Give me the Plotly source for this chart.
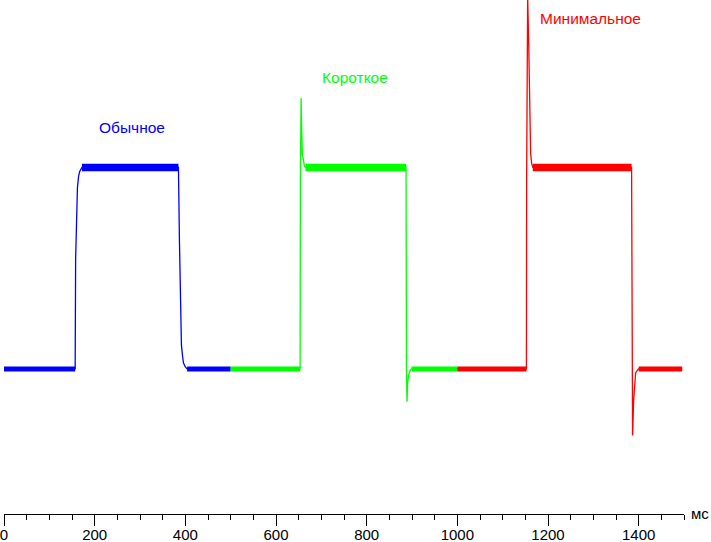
import plotly.graph_objects as go

# ---- data (time in ms, response in relative units: 0 = black level, 100 = white level)
blue_name = "Обычное"
blue_t = [0, 157, 158, 160, 162, 164.5, 167, 172, 384.8, 387, 389.2, 391.4, 393.6, 395.8, 400, 404, 500]
blue_v = [0, 0, 54.7, 79, 90, 95.6, 98, 100, 100, 63.5, 25, 11.8, 6.9, 3, 1, 0, 0]

green_name = "Короткое"
green_t = [500, 653.2, 653.8, 655.4, 656.7, 658.2, 660.4, 662.6, 665, 886.9, 887.8, 889.0, 890.4, 892.6, 896.4, 899, 1000]
green_v = [0, 0, 95, 134.5, 118, 106.4, 104, 100.5, 100, 100, 0, -16.3, -6.9, -3, -0.5, 0, 0]

red_name = "Минимальное"
red_t = [1000, 1152.4, 1152.9, 1155.1, 1157.3, 1159.5, 1161.7, 1163.9, 1166.5, 1384.4, 1385.5, 1386.6, 1388.8, 1391.0, 1393.3, 1397.7, 1400, 1496]
red_v = [0, 0, 95, 185, 163, 123.6, 106.9, 102, 100, 100, 0, -33, -16.1, -7.9, -2, -0.5, 0, 0]

x_tick_vals = [0, 200, 400, 600, 800, 1000, 1200, 1400]
x_unit = "мс"

series = [
    (blue_name, blue_t, blue_v, "#0000FF"),
    (green_name, green_t, green_v, "#00FF00"),
    (red_name, red_t, red_v, "#FF0000"),
]

FONT = "Arial, Liberation Sans, sans-serif"

fig = go.Figure()


def steady_segments(t, v, hi):
    xs, ys = [], []
    for i in range(len(t) - 1):
        if v[i] == v[i + 1] and ((v[i] >= 50) == hi):
            xs += [t[i], t[i + 1], None]
            ys += [v[i], v[i + 1], None]
    return xs, ys


for name, t, v, col in series:
    # noisy steady levels drawn as bands
    for hi, w in ((False, 5), (True, 7.5)):
        xs, ys = steady_segments(t, v, hi)
        fig.add_trace(go.Scatter(x=xs, y=ys, mode="lines", line=dict(color=col, width=w),
                                 hoverinfo="skip", showlegend=False))
    fig.add_trace(go.Scatter(x=t, y=v, mode="lines", name=name,
                             line=dict(color=col, width=1.3), showlegend=False))

labels = [
    (blue_name, 282, 119.6, "#0000FF"),
    (green_name, 775, 144.4, "#00FF00"),
    (red_name, 1293, 173.7, "#FF0000"),
]
for txt, x, y, col in labels:
    fig.add_annotation(x=x, y=y, xref="x", yref="y", text=txt, showarrow=False,
                       font=dict(color=col, size=15.5, family=FONT))

fig.add_annotation(x=1.0, y=0, xref="paper", yref="paper", xanchor="left", yanchor="middle",
                   xshift=5, yshift=1, text=x_unit, showarrow=False,
                   font=dict(color="#000000", size=15, family=FONT))

fig.update_layout(
    width=711, height=542,
    margin=dict(l=4, r=27, t=0, b=28, autoexpand=False),
    plot_bgcolor="white", paper_bgcolor="white",
    font=dict(family=FONT, size=15, color="#000000"),
    xaxis=dict(range=[0, 1500], tickvals=x_tick_vals, ticks="outside", ticklen=11, tickwidth=1,
               tickcolor="#000", showline=True, linecolor="#000", linewidth=1, showgrid=False,
               zeroline=False, fixedrange=True, ticklabelstandoff=-4, ticklabeloverflow="allow",
               minor=dict(dtick=50, tick0=0, ticks="outside", ticklen=5, tickcolor="#000", showgrid=False),
               tickfont=dict(size=15, color="#000")),
    yaxis=dict(range=[-72, 183.1], visible=False, showgrid=False, zeroline=False, fixedrange=True),
)

fig.write_html("out.html", config={"displayModeBar": False},
               post_script="document.body.style.margin='0';document.body.style.overflow='hidden';")
